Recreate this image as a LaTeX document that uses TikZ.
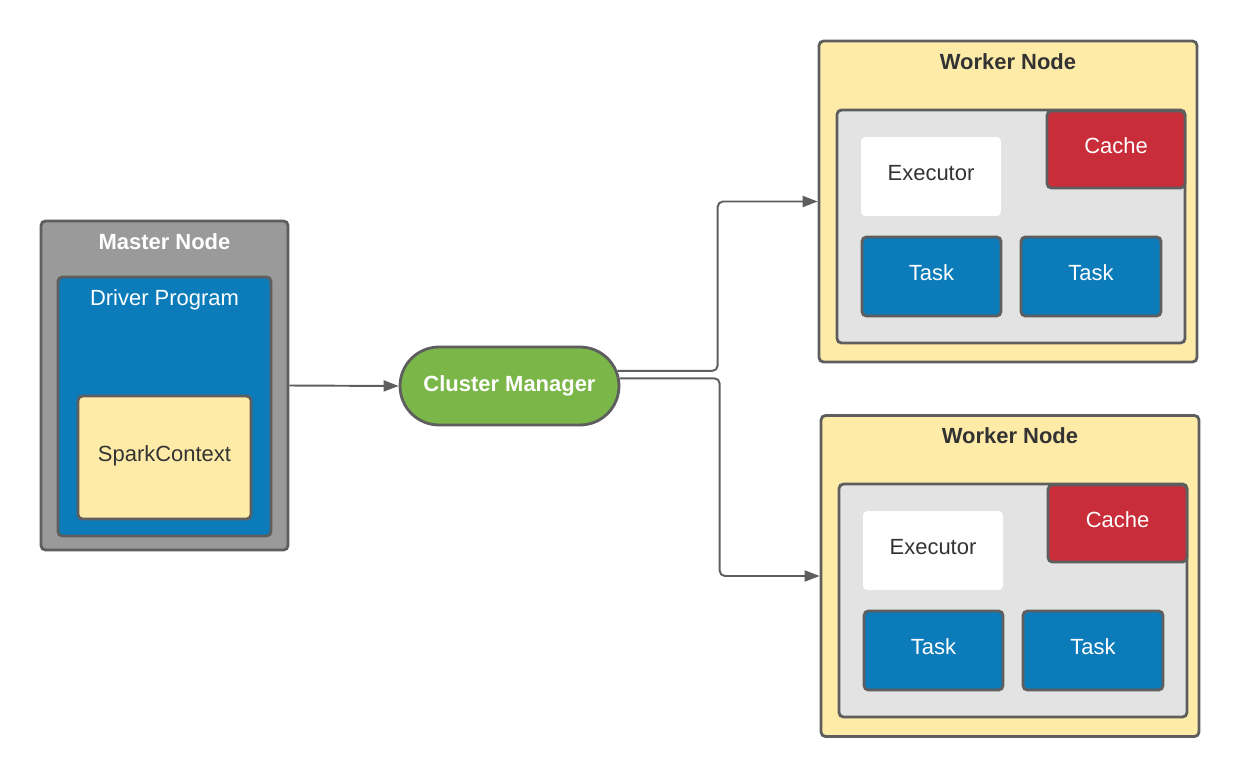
\documentclass[tikz,border=0pt]{standalone}
\usepackage{fontspec}
\setmainfont{Liberation Sans}
\usetikzlibrary{arrows.meta,shapes.misc}
\definecolor{edge}{HTML}{5E5E5E}
\definecolor{ink}{HTML}{333333}
\definecolor{mastergray}{HTML}{9A9A9A}
\definecolor{sparkblue}{HTML}{0C7BBA}
\definecolor{paleyellow}{HTML}{FFEBA8}
\definecolor{leafgreen}{HTML}{7AB648}
\definecolor{cachered}{HTML}{C92D39}
\definecolor{innergray}{HTML}{E3E3E3}
\tikzset{
  box/.style={rectangle, rounded corners=2.5pt, draw=edge, line width=1.6pt, fill=#1,
              align=center, inner sep=0pt, text depth=0.14cm, font=\fontsize{12.5}{15}\selectfont},
  plain/.style={rectangle, rounded corners=2.5pt, fill=#1, inner sep=0pt, text depth=0.14cm,
                font=\fontsize{12.5}{15}\selectfont, text=ink},
  pill/.style={rounded rectangle, draw=edge, line width=1.6pt, fill=#1, inner sep=0pt,
               font=\fontsize{12.5}{15}\selectfont\bfseries, text=white},
  head/.style={font=\fontsize{12.5}{15}\selectfont\bfseries, anchor=center},
  conn/.style={-{Triangle[length=3mm, width=2.2mm]}, line width=1.1pt, draw=edge},
}

\begin{document}
\begin{tikzpicture}[x=0.02cm, y=-0.02cm]
        \useasboundingbox (0,0) rectangle (1240,778);
        % master side
        \node[box=mastergray, minimum width=4.94cm, minimum height=6.58cm,
              label={[head, text=white, yshift=-0.44cm]north:Master Node}] (master) at (164.5,385.5) {};
        \node[box=sparkblue, minimum width=4.26cm, minimum height=5.18cm,
              label={[font=\fontsize{12.5}{15}\selectfont, text=white, anchor=center, yshift=-0.48cm]north:Driver Program}] (driver) at (164.5,406.5) {};
        \node[box=paleyellow, text=ink, minimum width=3.46cm, minimum height=2.46cm] (spark) at (164.5,457.5) {SparkContext};
        \node[pill=leafgreen, minimum width=4.38cm, minimum height=1.56cm] (cluster) at (509.5,386) {Cluster Manager};
        % first worker
        \node[box=paleyellow, minimum width=7.56cm, minimum height=6.42cm,
              label={[head, text=ink, yshift=-0.44cm]north:Worker Node}] (worker1) at (1008,201.5) {};
        \node[box=innergray, minimum width=6.96cm, minimum height=4.66cm] (inner1) at (1011,226.5) {};
        \node[plain=white, minimum width=2.8cm, minimum height=1.58cm] (exec1) at (931,176.5) {Executor};
        \node[box=cachered, text=white, minimum width=2.76cm, minimum height=1.54cm] (cache1) at (1116,149.5) {Cache};
        \node[box=sparkblue, text=white, minimum width=2.78cm, minimum height=1.58cm] (task1a) at (931.5,276.5) {Task};
        \node[box=sparkblue, text=white, minimum width=2.8cm, minimum height=1.58cm] (task1b) at (1091,276.5) {Task};
        % second worker
        \node[box=paleyellow, minimum width=7.56cm, minimum height=6.42cm,
              label={[head, text=ink, yshift=-0.44cm]north:Worker Node}] (worker2) at (1010,576) {};
        \node[box=innergray, minimum width=6.96cm, minimum height=4.66cm] (inner2) at (1013,600.5) {};
        \node[plain=white, minimum width=2.8cm, minimum height=1.58cm] (exec2) at (933,550.5) {Executor};
        \node[box=cachered, text=white, minimum width=2.78cm, minimum height=1.54cm] (cache2) at (1117.5,523.5) {Cache};
        \node[box=sparkblue, text=white, minimum width=2.78cm, minimum height=1.58cm] (task2a) at (933.5,650.5) {Task};
        \node[box=sparkblue, text=white, minimum width=2.8cm, minimum height=1.58cm] (task2b) at (1093,650.5) {Task};
        % connectors
        \draw[conn] (master.east) -- (cluster.west);
        \draw[conn, rounded corners=3pt] (cluster.8) -| ([xshift=-2cm]worker1.west) -- (worker1.west);
        \draw[conn, rounded corners=3pt] (cluster.4) -| ([xshift=-2cm]worker2.west) -- (worker2.west);
      \end{tikzpicture}
\end{document}
